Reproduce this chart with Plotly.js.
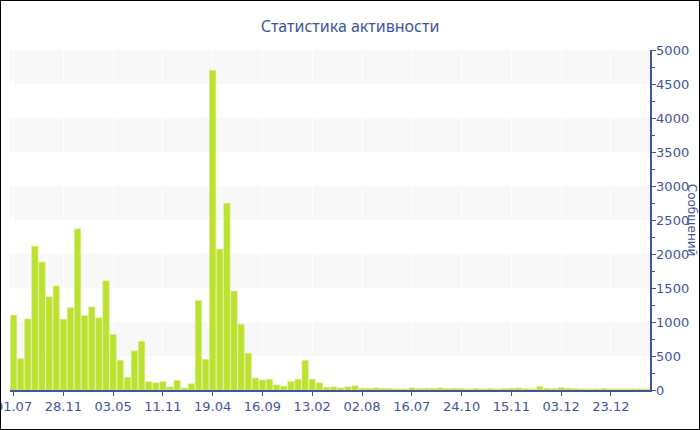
<!DOCTYPE html>
<html>
<head>
<meta charset="utf-8">
<script src="https://cdn.plot.ly/plotly-3.0.1.min.js"></script>
<style>
html,body{margin:0;padding:0;background:#fff;}
#chart{width:700px;height:430px;box-sizing:border-box;border:1px solid #000;overflow:hidden;}
</style>
</head>
<body>
<div id="chart"></div>
<script>
// Messages per period (90 bars)
const messages = [
  1100, 460, 1045, 2115, 1880, 1370, 1530, 1040, 1210, 2370,
  1095, 1220, 1060, 1605, 815, 435, 185, 575, 715, 120,
  105, 120, 45, 140, 30, 90, 1315, 450, 4700, 2070,
  2745, 1455, 965, 540, 175, 145, 155, 75, 55, 125,
  155, 435, 155, 105, 40, 45, 30, 45, 60, 25,
  25, 30, 25, 20, 15, 15, 30, 20, 25, 25,
  30, 20, 25, 20, 15, 20, 15, 20, 15, 20,
  25, 30, 20, 15, 50, 25, 20, 35, 25, 20,
  15, 15, 15, 20, 15, 15, 15, 15, 15, 15
];
const tickLabels = ["01.07","28.11","03.05","11.11","19.04","16.09","13.02","02.08","16.07","24.10","15.11","03.12","23.12"];
const tickStep = 7;
const bandRanges = [[500,1000],[1500,2000],[2500,3000],[3500,4000],[4500,5000]];

const idx = messages.map((_, i) => i);
const tickVals = tickLabels.map((_, i) => i * tickStep);

const axisColor = '#3f559c';
const fontFam = '"DejaVu Sans", Verdana, sans-serif';

const shapes = bandRanges.map(r => ({
  type: 'rect', xref: 'paper', yref: 'y', x0: 0, x1: 1, y0: r[0], y1: r[1],
  fillcolor: '#f8f8f8', line: {width: 0}, layer: 'below'
}));

const trace = {
  type: 'bar', x: idx, y: messages,
  marker: {color: '#bde130', line: {color: '#d4ec7a', width: 0.6}},
  hoverinfo: 'y'
};

const layout = {
  width: 698, height: 428,
  margin: {l: 9, r: 49, t: 49, b: 39},
  paper_bgcolor: '#fff', plot_bgcolor: 'rgba(0,0,0,0)',
  bargap: 0.12,
  showlegend: false,
  title: {text: 'Статистика активности', x: 0.5, xanchor: 'center', y: 0.94, yanchor: 'middle',
          font: {family: '"Noto Sans", "Open Sans", sans-serif', size: 16, color: axisColor}},
  font: {family: fontFam, color: axisColor},
  xaxis: {
    range: [-0.5, messages.length - 0.5],
    tickvals: tickVals, ticktext: tickLabels,
    ticks: 'outside', ticklen: 4, tickcolor: axisColor,
    ticklabeloverflow: 'allow',
    showline: true, linecolor: axisColor, linewidth: 1.5,
    showgrid: true, gridcolor: '#ffffff', gridwidth: 1,
    zeroline: false, fixedrange: true,
    tickfont: {family: fontFam, size: 13, color: axisColor}
  },
  yaxis: {
    side: 'right', range: [0, 5000], dtick: 500, tick0: 0,
    ticks: 'outside', ticklen: 4, tickcolor: axisColor,
    minor: {dtick: 250, ticks: 'outside', ticklen: 3, tickcolor: axisColor, showgrid: false},
    showline: true, linecolor: axisColor, linewidth: 1.5,
    showgrid: false, zeroline: false, fixedrange: true,
    ticklabelstandoff: -2,
    tickfont: {family: fontFam, size: 13, color: axisColor}
  },
  shapes: shapes,
  annotations: [{
    text: 'Сообщений', xref: 'paper', yref: 'paper', x: 1.066, y: 0.5,
    xanchor: 'center', yanchor: 'middle', textangle: 90, showarrow: false,
    font: {family: fontFam, size: 12, color: axisColor}
  }]
};

Plotly.newPlot('chart', [trace], layout, {displayModeBar: false, staticPlot: true});
</script>
</body>
</html>
